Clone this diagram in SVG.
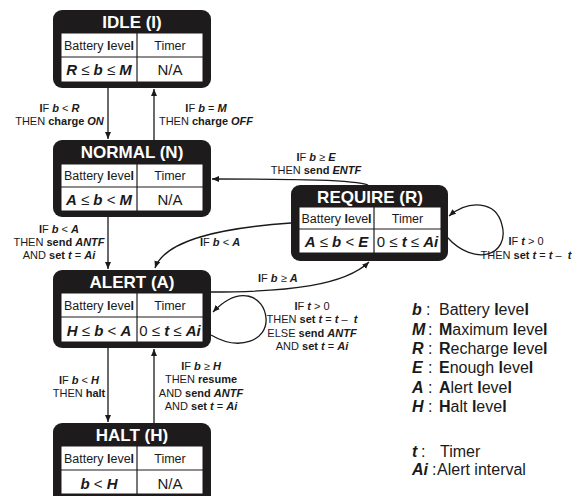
<svg xmlns="http://www.w3.org/2000/svg" width="578" height="496" viewBox="0 0 578 496">
<defs>
<marker id="ah" markerWidth="7" markerHeight="6" refX="7" refY="3" orient="auto" markerUnits="userSpaceOnUse">
<path d="M0,0 L7,3 L0,6 z" fill="#1a1a1a"/>
</marker>
<style>
.box{fill:#1e1b1c}
.tbl{fill:#fff;stroke:#1e1b1c;stroke-width:1}
.grid{stroke:#1e1b1c;stroke-width:1.2}
.ttl{font-family:"Liberation Sans",Arial,sans-serif;font-size:17px;font-weight:bold;fill:#fff;text-anchor:middle}
.cell{font-family:"Liberation Sans",Arial,sans-serif;font-size:12.5px;fill:#1a1a1a;text-anchor:middle}
.val{font-family:"Liberation Sans",Arial,sans-serif;font-size:15px;fill:#1a1a1a;text-anchor:middle}
.lbl{font-family:"Liberation Sans",Arial,sans-serif;font-size:11px;fill:#1a1a1a;text-anchor:middle}
.leg{font-family:"Liberation Sans",Arial,sans-serif;font-size:16px;fill:#1a1a1a}
.b{font-weight:bold}
.bi{font-weight:bold;font-style:italic}
.con{fill:none;stroke:#1a1a1a;stroke-width:1.3;marker-end:url(#ah)}
</style>
</defs>
<rect width="578" height="496" fill="#fff"/>

<g id="connectors">
<path class="con" d="M108 88 L108 139"/>
<path class="con" d="M154 140 L154 89"/>
<path class="con" d="M108 217 L108 269"/>
<path class="con" d="M368 185 C 355 180, 300 179, 212 179"/>
<path class="con" d="M291 223 C 220 228, 165 240, 155 268"/>
<path class="con" d="M211 292 C 290 292, 345 285, 369 262"/>
<path class="con" d="M447 237 C 475 268, 510 255, 502 225 C 496 200, 468 200, 449 216"/>
<path class="con" d="M211 335 C 240 352, 268 340, 266 318 C 264 296, 240 284, 213 312"/>
<path class="con" d="M108 348 L108 422"/>
<path class="con" d="M154 423 L154 349"/>
</g>

<g id="labels">
<text class="lbl" x="59.5" y="112"><tspan class="b">I</tspan>F <tspan class="bi">b</tspan> &lt; <tspan class="bi">R</tspan></text>
<text class="lbl" x="59.5" y="125">THEN <tspan class="b">charge</tspan> <tspan class="bi">ON</tspan></text>

<text class="lbl" x="206" y="112"><tspan class="b">I</tspan>F <tspan class="bi">b</tspan> = <tspan class="bi">M</tspan></text>
<text class="lbl" x="206" y="125">THEN <tspan class="b">charge</tspan> <tspan class="bi">OFF</tspan></text>

<text class="lbl" x="59" y="233"><tspan class="b">I</tspan>F <tspan class="bi">b</tspan> &lt; <tspan class="bi">A</tspan></text>
<text class="lbl" x="59" y="246">THEN <tspan class="b">send</tspan> <tspan class="bi">ANTF</tspan></text>
<text class="lbl" x="59" y="259">AND <tspan class="b">set</tspan> <tspan class="bi">t</tspan> = <tspan class="bi">Ai</tspan></text>

<text class="lbl" x="316" y="161"><tspan class="b">I</tspan>F <tspan class="bi">b</tspan> ≥ <tspan class="bi">E</tspan></text>
<text class="lbl" x="316" y="174">THEN <tspan class="b">send</tspan> <tspan class="bi">ENTF</tspan></text>

<text class="lbl" x="200" y="246" style="text-anchor:start"><tspan class="b">I</tspan>F <tspan class="bi">b</tspan> &lt; <tspan class="bi">A</tspan></text>

<text class="lbl" x="258" y="282" style="text-anchor:start"><tspan class="b">I</tspan>F <tspan class="bi">b</tspan> ≥ <tspan class="bi">A</tspan></text>

<text class="lbl" x="526" y="245"><tspan class="b">I</tspan>F <tspan class="bi">t</tspan> &gt; 0</text>
<text class="lbl" x="526" y="259">THEN <tspan class="b">set</tspan> <tspan class="bi">t</tspan> = <tspan class="bi">t</tspan> –&#160;&#160;<tspan class="bi">t</tspan></text>

<text class="lbl" x="312" y="310"><tspan class="b">I</tspan>F <tspan class="bi">t</tspan> &gt; 0</text>
<text class="lbl" x="312" y="323">THEN <tspan class="b">set</tspan> <tspan class="bi">t</tspan> = <tspan class="bi">t</tspan> –&#160;&#160;<tspan class="bi">t</tspan></text>
<text class="lbl" x="312" y="337">ELSE <tspan class="b">send</tspan> <tspan class="bi">ANTF</tspan></text>
<text class="lbl" x="312" y="350">AND <tspan class="b">set</tspan> <tspan class="bi">t</tspan> = <tspan class="bi">Ai</tspan></text>

<text class="lbl" x="79" y="384"><tspan class="b">I</tspan>F <tspan class="bi">b</tspan> &lt; <tspan class="bi">H</tspan></text>
<text class="lbl" x="79" y="397">THEN <tspan class="b">halt</tspan></text>

<text class="lbl" x="201" y="370"><tspan class="b">I</tspan>F <tspan class="bi">b</tspan> ≥ <tspan class="bi">H</tspan></text>
<text class="lbl" x="201" y="383">THEN <tspan class="b">resume</tspan></text>
<text class="lbl" x="201" y="397">AND <tspan class="b">send</tspan> <tspan class="bi">ANTF</tspan></text>
<text class="lbl" x="201" y="410">AND <tspan class="b">set</tspan> <tspan class="bi">t</tspan> = <tspan class="bi">Ai</tspan></text>
</g>

<g id="idle">
<rect class="box" x="53" y="10" width="158" height="78" rx="9"/>
<rect class="tbl" x="61" y="33" width="142" height="49"/>
<line class="grid" x1="61" y1="57" x2="203" y2="57"/>
<line class="grid" x1="137" y1="33" x2="137" y2="82"/>
<text class="ttl" x="132" y="28">IDLE (I)</text>
<text class="cell" x="99" y="50">Battery <tspan class="b">l</tspan>eve<tspan class="b">l</tspan></text>
<text class="cell" x="170" y="50">Timer</text>
<text class="val" x="99" y="75"><tspan class="bi">R</tspan> ≤ <tspan class="bi">b</tspan> ≤ <tspan class="bi">M</tspan></text>
<text class="val" x="170" y="75">N/A</text>
</g>

<g id="normal">
<rect class="box" x="53" y="140" width="158" height="77" rx="9"/>
<rect class="tbl" x="61" y="164" width="142" height="47"/>
<line class="grid" x1="61" y1="187" x2="203" y2="187"/>
<line class="grid" x1="137" y1="164" x2="137" y2="211"/>
<text class="ttl" x="132" y="158">NORMAL (N)</text>
<text class="cell" x="99" y="180">Battery <tspan class="b">l</tspan>eve<tspan class="b">l</tspan></text>
<text class="cell" x="170" y="180">Timer</text>
<text class="val" x="99" y="205"><tspan class="bi">A</tspan> ≤ <tspan class="bi">b</tspan> &lt; <tspan class="bi">M</tspan></text>
<text class="val" x="170" y="205">N/A</text>
</g>

<g id="require">
<rect class="box" x="291" y="185" width="157" height="76" rx="9"/>
<rect class="tbl" x="299" y="207" width="142" height="46"/>
<line class="grid" x1="299" y1="229" x2="441" y2="229"/>
<line class="grid" x1="374" y1="207" x2="374" y2="253"/>
<text class="ttl" x="370" y="203">REQUIRE (R)</text>
<text class="cell" x="336.5" y="223">Battery <tspan class="b">l</tspan>eve<tspan class="b">l</tspan></text>
<text class="cell" x="407.5" y="223">Timer</text>
<text class="val" x="336.5" y="247"><tspan class="bi">A</tspan> ≤ <tspan class="bi">b</tspan> &lt; <tspan class="bi">E</tspan></text>
<text class="val" x="407.5" y="247">0 ≤ <tspan class="bi">t</tspan> ≤ <tspan class="bi">Ai</tspan></text>
</g>

<g id="alert">
<rect class="box" x="53" y="270" width="158" height="78" rx="9"/>
<rect class="tbl" x="61" y="293" width="142" height="49"/>
<line class="grid" x1="61" y1="317" x2="203" y2="317"/>
<line class="grid" x1="137" y1="293" x2="137" y2="342"/>
<text class="ttl" x="132" y="288">ALERT (A)</text>
<text class="cell" x="99" y="310">Battery <tspan class="b">l</tspan>eve<tspan class="b">l</tspan></text>
<text class="cell" x="170" y="310">Timer</text>
<text class="val" x="99" y="336"><tspan class="bi">H</tspan> ≤ <tspan class="bi">b</tspan> &lt; <tspan class="bi">A</tspan></text>
<text class="val" x="170" y="336">0 ≤ <tspan class="bi">t</tspan> ≤ <tspan class="bi">Ai</tspan></text>
</g>

<g id="halt">
<rect class="box" x="53" y="423" width="158" height="82" rx="9"/>
<rect class="tbl" x="61" y="446" width="142" height="48"/>
<line class="grid" x1="61" y1="470" x2="203" y2="470"/>
<line class="grid" x1="137" y1="446" x2="137" y2="494"/>
<text class="ttl" x="132" y="441">HALT (H)</text>
<text class="cell" x="99" y="463">Battery <tspan class="b">l</tspan>eve<tspan class="b">l</tspan></text>
<text class="cell" x="170" y="463">Timer</text>
<text class="val" x="99" y="489"><tspan class="bi">b</tspan> &lt; <tspan class="bi">H</tspan></text>
<text class="val" x="170" y="489">N/A</text>
</g>

<g id="legend" class="leg">
<text x="412" y="315"><tspan class="bi">b</tspan></text><text x="426" y="315">:</text><text x="439" y="315">Battery <tspan class="b">l</tspan>eve<tspan class="b">l</tspan></text>
<text x="412" y="335"><tspan class="bi">M</tspan></text><text x="428" y="335">:</text><text x="439" y="335"><tspan class="b">M</tspan>aximum <tspan class="b">l</tspan>eve<tspan class="b">l</tspan></text>
<text x="412" y="354"><tspan class="bi">R</tspan></text><text x="428" y="354">:</text><text x="439" y="354"><tspan class="b">R</tspan>echarge <tspan class="b">l</tspan>eve<tspan class="b">l</tspan></text>
<text x="412" y="373"><tspan class="bi">E</tspan></text><text x="428" y="373">:</text><text x="439" y="373"><tspan class="b">E</tspan>nough <tspan class="b">l</tspan>eve<tspan class="b">l</tspan></text>
<text x="412" y="393"><tspan class="bi">A</tspan></text><text x="428" y="393">:</text><text x="439" y="393"><tspan class="b">A</tspan>lert <tspan class="b">l</tspan>eve<tspan class="b">l</tspan></text>
<text x="412" y="412"><tspan class="bi">H</tspan></text><text x="428" y="412">:</text><text x="439" y="412"><tspan class="b">H</tspan>alt <tspan class="b">l</tspan>eve<tspan class="b">l</tspan></text>
<text x="412" y="457"><tspan class="bi">t</tspan></text><text x="421" y="457">:</text><text x="440" y="457">Timer</text>
<text x="412" y="475"><tspan class="bi">Ai</tspan></text><text x="432" y="475">:</text><text x="437" y="475">Alert interval</text>
</g>
</svg>
